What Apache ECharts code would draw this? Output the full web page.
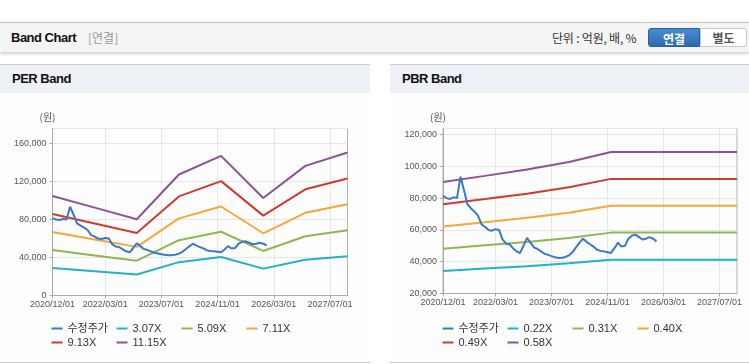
<!DOCTYPE html>
<html><head><meta charset="utf-8">
<script src="https://cdn.jsdelivr.net/npm/echarts@6/dist/echarts.min.js"></script>
<style>
body{margin:0;width:749px;height:364px;overflow:hidden;background:#fff;position:relative;font-family:"Liberation Sans",Arial,"Noto Sans CJK KR",sans-serif}
#topbar{position:absolute;left:0;top:22px;width:749px;height:29px;background:#f4f4f4;border-top:1px solid #c4c4c4;box-shadow:0 2px 3px rgba(0,0,0,0.18)}
#title{position:absolute;left:11px;top:0;line-height:29px;font-size:13px;font-weight:bold;color:#111;letter-spacing:-0.5px}
#sub{position:absolute;left:88px;top:0;line-height:29px;font-size:12px;color:#999;font-family:"Noto Sans CJK KR",sans-serif}
#unit{position:absolute;left:552px;top:0;line-height:29px;font-size:12px;color:#333;font-family:"Noto Sans CJK KR",sans-serif;letter-spacing:-0.2px}
#btn1{position:absolute;left:648px;top:5px;width:52px;height:19px;line-height:19px;text-align:center;color:#fff;font-weight:bold;font-size:12px;font-family:"Noto Sans CJK KR",sans-serif;background:linear-gradient(#4c8cd2,#2c69b0);border:1px solid #2a5f9e;box-sizing:border-box;border-radius:3px 0 0 3px}
#btn2{position:absolute;left:700px;top:5px;width:47px;height:19px;line-height:17px;text-align:center;color:#555;font-weight:bold;font-size:12px;font-family:"Noto Sans CJK KR",sans-serif;background:#fff;border:1px solid #c8c8c8;box-sizing:border-box;border-radius:0 3px 3px 0}
.panel{position:absolute;top:64px;height:297px;border-top:1px solid #cfcfcf;border-bottom:1px solid #cfcfcf;background:#fdfdfd}
.ph{height:28px;background:#eef2f7;line-height:28px;padding-left:12px;font-size:13px;font-weight:bold;color:#111;letter-spacing:-0.5px}
#chart{position:absolute;left:0;top:0;width:749px;height:364px}
</style></head>
<body>
<div id="topbar"><div id="title">Band Chart</div><div id="sub">[연결]</div><div id="unit">단위 : 억원, 배, %</div><div id="btn1">연결</div><div id="btn2">별도</div></div>
<div class="panel" style="left:0;width:370px"><div class="ph">PER Band</div></div>
<div class="panel" style="left:390px;width:359px"><div class="ph">PBR Band</div></div>
<div id="chart"></div>
<script>
// monthly categories 2020/12 .. 2027/12
const categories = [];
for (let i = 0; i < 85; i++) {
  const t = 2020 * 12 + 11 + i;
  const y = Math.floor(t / 12), m = t % 12 + 1;
  categories.push(y + '/' + String(m).padStart(2, '0') + '/01');
}
const xTickLabels = ['2020/12/01', '2022/03/01', '2023/07/01', '2024/11/01', '2026/03/01', '2027/07/01'];

// band anchor dates (year ends)
const bandDates = ['2020/12/01', '2021/12/01', '2022/12/01', '2023/12/01', '2024/12/01', '2025/12/01', '2026/12/01', '2027/12/01'];

// PER bands (원)
const per307 = [28900, 25500, 22100, 35100, 40500, 28300, 37600, 41400];
const per509 = [47800, 42200, 36700, 58200, 67100, 46900, 62300, 68700];
const per711 = [66800, 59000, 51200, 81200, 93700, 65500, 87000, 96000];
const per913 = [85800, 75800, 65800, 104300, 120400, 84100, 111800, 123200];
const per1115 = [104800, 92500, 80300, 127400, 147000, 102700, 136500, 150500];

// PBR bands (원)
const pbr022 = [34200, 35700, 37200, 39000, 41300, 41300, 41300, 41300];
const pbr031 = [48200, 50300, 52400, 54900, 58300, 58300, 58300, 58300];
const pbr040 = [62200, 64800, 67600, 70800, 75200, 75200, 75200, 75200];
const pbr049 = [76200, 79400, 82800, 86800, 92100, 92100, 92100, 92100];
const pbr058 = [90200, 94000, 98000, 102700, 109000, 109000, 109000, 109000];

// 수정주가, monthly from 2020/12
const price = [81500, 80000, 79500, 80500, 80000, 93500, 85000, 76000, 73500, 71500,
  69000, 63500, 62000, 60000, 59500, 60500, 60000, 54000, 51500, 51000,
  48500, 46500, 45500, 50000, 55000, 52000, 49000, 48000, 46500, 45000,
  44300, 43500, 42800, 42300, 42500, 43000, 44000, 46000, 49000, 52000,
  54500, 52500, 51000, 49500, 47500, 46800, 46500, 46000, 45500, 48500,
  52000, 49500, 50000, 54500, 56500, 57000, 55500, 54000, 54500, 55500,
  54500, 52800];

const perNames = ['수정주가', '3.07X', '5.09X', '7.11X', '9.13X', '11.15X'];
const pbrNames = ['수정주가', '0.22X', '0.31X', '0.40X', '0.49X', '0.58X'];
const colors = ['#3a78c8', '#22b2c4', '#8cb852', '#f4a73b', '#d33a2f', '#8f519e'];

const font = '"Liberation Sans", Arial, "Noto Sans CJK KR", sans-serif';
const tickFn = (idx, val) => xTickLabels.indexOf(val) >= 0;

function xAxis(g) {
  return {
    type: 'category', gridIndex: g, data: categories, boundaryGap: false,
    axisLine: { lineStyle: { color: '#aaaaaa', width: 1 } },
    axisTick: { show: true, interval: tickFn, length: 3, lineStyle: { color: '#aaaaaa' } },
    axisLabel: { interval: tickFn, fontSize: 9, color: '#555', margin: 5, fontFamily: font, hideOverlap: false },
    splitLine: { show: true, interval: tickFn, lineStyle: { color: '#e6e6e6', width: 1 } }
  };
}
function yAxis(g, min, max, interval) {
  return {
    type: 'value', gridIndex: g, min: min, max: max, interval: interval,
    name: '(원)', nameLocation: 'end', nameGap: 6,
    nameTextStyle: { fontSize: 10, color: '#555', padding: [0, 10, 0, 0], fontFamily: '"Noto Sans CJK KR", sans-serif' },
    axisLine: { show: true, lineStyle: { color: '#aaaaaa' } },
    axisTick: { show: true, length: 3, lineStyle: { color: '#aaaaaa' } },
    axisLabel: { fontSize: 9, color: '#555', margin: 6, showMaxLabel: false, fontFamily: font,
      formatter: v => v.toLocaleString('en-US') },
    splitLine: { show: true, lineStyle: { color: '#e6e6e6' } }
  };
}
function band(name, vals, g, color) {
  return {
    name: name, type: 'line', xAxisIndex: g, yAxisIndex: g,
    data: bandDates.map((d, i) => [d, vals[i]]),
    showSymbol: false, symbol: 'none', connectNulls: true,
    lineStyle: { width: 2, color: color }, itemStyle: { color: color }, silent: true
  };
}
function priceSeries(g) {
  return {
    name: '수정주가', type: 'line', xAxisIndex: g, yAxisIndex: g, data: price,
    showSymbol: false, symbol: 'none', lineStyle: { width: 2, color: colors[0] },
    itemStyle: { color: colors[0] }, silent: true, z: 3
  };
}

const perBands = [per307, per509, per711, per913, per1115];
const pbrBands = [pbr022, pbr031, pbr040, pbr049, pbr058];
const series = [];
perBands.forEach((b, i) => series.push(band(perNames[i + 1], b, 0, colors[i + 1])));
series.push(priceSeries(0));
pbrBands.forEach((b, i) => series.push(band(pbrNames[i + 1], b, 1, colors[i + 1])));
series.push(priceSeries(1));

const legends = [];
function addLegends(names, baseX) {
  const offs = [[0, 323], [65, 323], [130, 323], [195, 323], [0, 337], [65, 337]];
  names.forEach((n, i) => {
    legends.push({
      data: [n], left: baseX + offs[i][0], top: offs[i][1], padding: 0,
      icon: 'rect', itemWidth: 11, itemHeight: 2, selectedMode: false,
      textStyle: { fontSize: 11, color: '#333', fontFamily: font }
    });
  });
}
addLegends(perNames, 51.5);
addLegends(pbrNames, 442.5);

const chart = echarts.init(document.getElementById('chart'), null, { renderer: 'canvas' });
chart.setOption({
  animation: false,
  backgroundColor: 'transparent',
  grid: [
    { left: 52.5, top: 128.5, width: 295, height: 167, show: true, borderColor: '#b4b4b4', borderWidth: 1, containLabel: false, outerBoundsMode: 'none' },
    { left: 443, top: 128.5, width: 294, height: 165, show: true, borderColor: '#b4b4b4', borderWidth: 1, containLabel: false, outerBoundsMode: 'none' }
  ],
  xAxis: [xAxis(0), xAxis(1)],
  yAxis: [yAxis(0, 0, 175800, 40000), yAxis(1, 20000, 123800, 20000)],
  legend: legends,
  series: series
});
</script>
</body></html>
